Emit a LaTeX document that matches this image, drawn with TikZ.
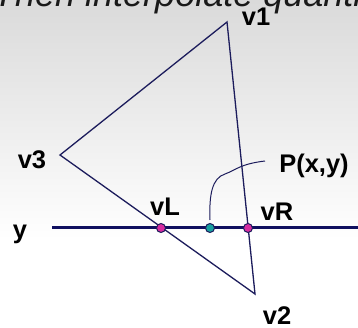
\documentclass[tikz,border=0pt]{standalone}
\usepackage{fontspec}
\setmainfont{Liberation Sans}
\usepackage{tikz}

\definecolor{edgeblue}{RGB}{28,28,92}
\definecolor{scanblue}{RGB}{16,16,96}
\definecolor{hitpink}{RGB}{214,44,160}
\definecolor{midteal}{RGB}{24,160,160}

\begin{document}
\begin{tikzpicture}[x=1pt, y=-1pt,
  every node/.style={font=\fontsize{25.5}{30}\selectfont\bfseries, inner sep=0pt},
  dot/.style={circle, draw=edgeblue, line width=1pt, minimum size=9pt, inner sep=0pt}]
\useasboundingbox (0,0) rectangle (358,328);
\clip (0,0) rectangle (358,328);
\shade[top color={rgb,255:red,218;green,218;blue,218}, bottom color=white] (0,0) rectangle (358,240);
\fill[white] (0,239) rectangle (358,328);
\node[anchor=base west, font=\fontsize{36}{40}\selectfont\itshape, text=black!90] (title) at (-7,7) {Then interpolate quantities};
\coordinate (v1) at (227,22);
\coordinate (v2) at (255,294);
\coordinate (v3) at (60,155);
\coordinate (ya) at (52,228);
\coordinate (yb) at (370,228);
\draw[edgeblue, line width=1.3pt, line join=miter] (v1) -- (v3) -- (v2) -- cycle;
\draw[scanblue, line width=3pt] (ya) -- (yb);
\node[dot, fill=hitpink] (vL) at (161,228) {};
\node[dot, fill=midteal] (P) at (210,228) {};
\node[dot, fill=hitpink] (vR) at (248,228) {};
\coordinate (tip) at (265,161);
\draw[edgeblue, line width=1pt] (P.north) ++(0,-3) .. controls (209,195) and (212,178) .. (225,174) .. controls (236,170) and (240,164) .. (tip);
\node (lv1) at (256,17) {v1};
\node (lv2) at (277,316) {v2};
\node (lv3) at (32,160) {v3};
\node (ly) at (20,234) {y};
\node (lvL) at (165,207) {vL};
\node (lvR) at (277,212) {vR};
\node (lP) at (314,166) {P(x,y)};
\end{tikzpicture}
\end{document}
